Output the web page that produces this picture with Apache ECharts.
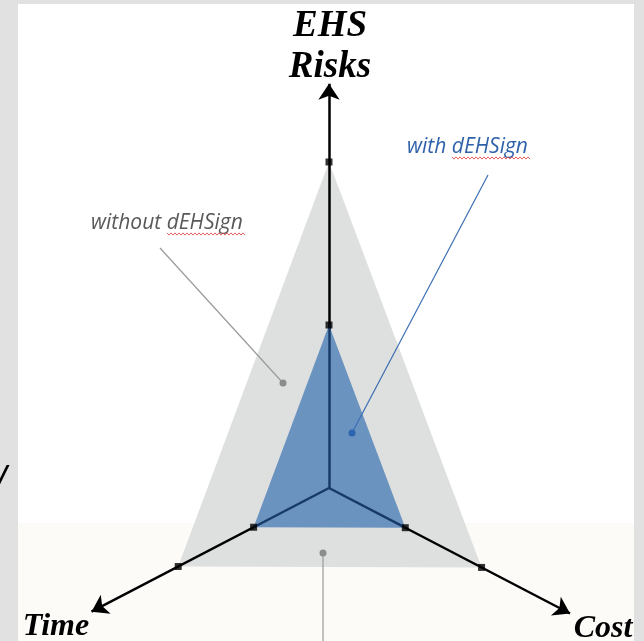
<!DOCTYPE html>
<html>
<head>
<meta charset="utf-8">
<script src="https://cdn.jsdelivr.net/npm/echarts/dist/echarts.min.js"></script>
<style>
html,body{margin:0;padding:0;background:#ffffff;}
#chart{width:644px;height:641px;}
</style>
</head>
<body>
<div id="chart"></div>
<script>
// ---------------- data ----------------
const indicatorNames = ['EHS\nRisks', 'Time', 'Cost'];
const withoutDEHSign = [2, 2, 2];
const withDEHSign = [1, 1, 1];
const tickValues = [1, 2];
const axisEnds = [2.48, 3.15, 3.16];
const seriesLabels = ['without dEHSign', 'with dEHSign'];

// ---------------- layout (geometry of the three axes) ----------------
const AXIS_ANGLE_DEG = [90, 207.5, 332.5];
const UNIT = [163, 85, 86];
function project(i, v) {
  const a = AXIS_ANGLE_DEG[i] * Math.PI / 180;
  return [v * UNIT[i] * Math.cos(a), v * UNIT[i] * Math.sin(a)];
}

function polygonSeries(name, values, color, z) {
  return {
    type: 'custom', name: name, coordinateSystem: 'cartesian2d', z: z, silent: true,
    data: values.map((v, i) => project(i, v)),
    renderItem: function (params, api) {
      if (params.dataIndex !== 0) return;
      const pts = values.map((v, i) => api.coord(project(i, v)));
      return { type: 'polygon', shape: { points: pts }, style: { fill: color } };
    }
  };
}

function squiggle(x0, x1, y) {
  const pts = [];
  let k = 0;
  for (let x = x0; x <= x1; x += 2, k++) pts.push([x, y + (k % 2 ? 1.1 : -1.1)]);
  return { type: 'polyline', z: 20, shape: { points: pts }, style: { stroke: '#e0393e', lineWidth: 0.8, fill: null } };
}

const chart = echarts.init(document.getElementById('chart'), null, { renderer: 'canvas' });

const tickData = [];
indicatorNames.forEach((n, i) => tickValues.forEach(t => tickData.push(project(i, t))));

const serifBI = 'italic bold {S}px "Liberation Serif", "DejaVu Serif", serif';
const annFont = 'italic {S}px "Open Sans", "Noto Sans", sans-serif';

const option = {
  animation: false,
  backgroundColor: '#ffffff',
  grid: { left: 0, right: 0, top: 0, bottom: 0, containLabel: false },
  xAxis: { type: 'value', min: -329, max: 315, show: false },
  yAxis: { type: 'value', min: -153, max: 488, show: false },
  graphic: [
    // page backdrop
    { type: 'rect', z: -5, shape: { x: 0, y: 0, width: 644, height: 641 }, style: { fill: '#e1e1e1' } },
    { type: 'rect', z: -4, shape: { x: 18, y: 4, width: 616, height: 637 }, style: { fill: '#ffffff' } },
    { type: 'rect', z: -3, shape: { x: 18, y: 523, width: 616, height: 118 }, style: { fill: '#fcfbf8' } },
    // axis titles
    { type: 'text', z: 20, x: 330, y: 26, style: { text: indicatorNames[0].split('\n')[0], font: serifBI.replace('{S}', 37), fill: '#000', textAlign: 'center', textVerticalAlign: 'middle' } },
    { type: 'text', z: 20, x: 330, y: 67, style: { text: indicatorNames[0].split('\n')[1], font: serifBI.replace('{S}', 37), fill: '#000', textAlign: 'center', textVerticalAlign: 'middle' } },
    { type: 'text', z: 20, x: 56, y: 627, style: { text: indicatorNames[1], font: serifBI.replace('{S}', 32), fill: '#000', textAlign: 'center', textVerticalAlign: 'middle' } },
    { type: 'text', z: 20, x: 603, y: 629, style: { text: indicatorNames[2], font: serifBI.replace('{S}', 32), fill: '#000', textAlign: 'center', textVerticalAlign: 'middle' } },
    { type: 'text', z: 20, x: 3, y: 478, style: { text: '/', font: 'bold italic 26px "DejaVu Sans", sans-serif', fill: '#000', textAlign: 'center', textVerticalAlign: 'middle' } },
    // annotations
    { type: 'text', z: 20, x: 91, y: 223, style: { text: seriesLabels[0], font: annFont.replace('{S}', 21), fill: '#595959', textAlign: 'left', textVerticalAlign: 'middle' } },
    squiggle(167, 245, 234),
    { type: 'line', z: 20, shape: { x1: 160, y1: 248, x2: 283, y2: 383 }, style: { stroke: '#9a9a9a', lineWidth: 1.2 } },
    { type: 'circle', z: 20, shape: { cx: 283, cy: 383, r: 3.5 }, style: { fill: '#8c8c8c' } },
    { type: 'text', z: 20, x: 407, y: 147, style: { text: seriesLabels[1], font: annFont.replace('{S}', 21), fill: '#2f62aa', textAlign: 'left', textVerticalAlign: 'middle' } },
    squiggle(452, 530, 158),
    { type: 'line', z: 20, shape: { x1: 488, y1: 175, x2: 352, y2: 433 }, style: { stroke: '#3b6eb3', lineWidth: 1.2 } },
    { type: 'circle', z: 20, shape: { cx: 352, cy: 433, r: 3.5 }, style: { fill: '#2d66b0' } },
    { type: 'line', z: 20, shape: { x1: 323, y1: 553, x2: 323, y2: 641 }, style: { stroke: '#9a9a9a', lineWidth: 1.2 } },
    { type: 'circle', z: 20, shape: { cx: 323, cy: 553, r: 3.5 }, style: { fill: '#8c8c8c' } }
  ],
  series: [
    polygonSeries(seriesLabels[0], withoutDEHSign, '#dedfdf', 1),
    {
      type: 'lines', coordinateSystem: 'cartesian2d', z: 2, silent: true,
      symbol: ['none', 'arrow'], symbolSize: 16,
      lineStyle: { color: '#000000', width: 2.5, opacity: 1, curveness: 0 },
      data: indicatorNames.map((n, i) => ({ coords: [[0, 0], project(i, axisEnds[i])] }))
    },
    polygonSeries(seriesLabels[1], withDEHSign, '#6b93c0', 3),
    {
      type: 'lines', coordinateSystem: 'cartesian2d', z: 4, silent: true,
      symbol: ['none', 'none'],
      lineStyle: { color: '#183a66', width: 2.5, opacity: 1 },
      data: indicatorNames.map((n, i) => ({ coords: [[0, 0], project(i, withDEHSign[i])] }))
    },
    {
      type: 'scatter', z: 5, silent: true, symbol: 'rect', symbolSize: 7,
      itemStyle: { color: '#000000' },
      data: tickData
    }
  ]
};
chart.setOption(option);
</script>
</body>
</html>
